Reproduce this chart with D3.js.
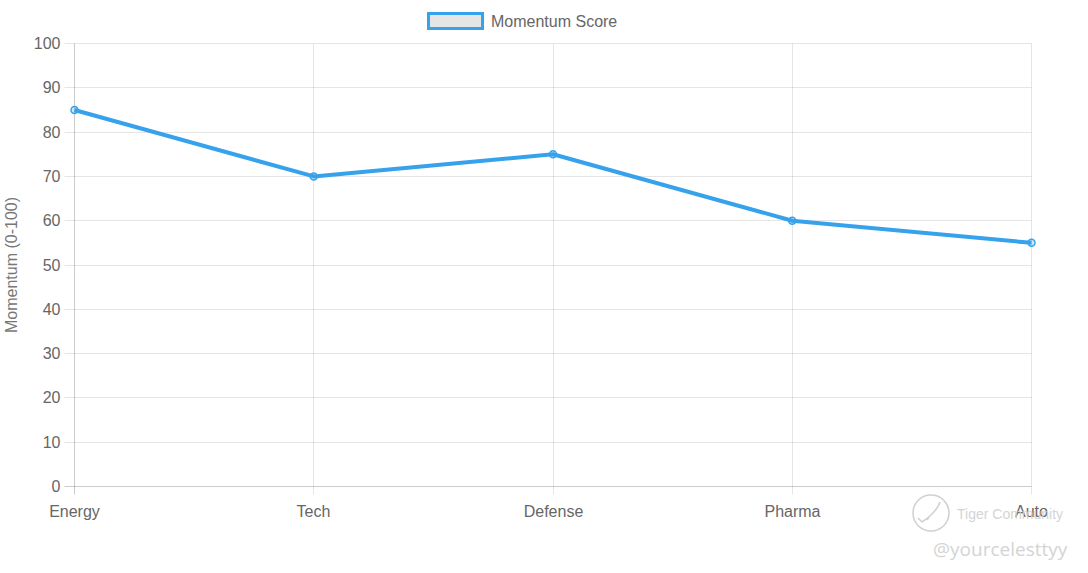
<!DOCTYPE html>
<html><head><meta charset="utf-8">
<script src="https://cdn.jsdelivr.net/npm/d3@7"></script>
<style>body{margin:0;background:#fff;}svg{display:block;font-family:"Liberation Sans",Arial,sans-serif;}</style>
</head><body>
<svg id="chart" width="1088" height="573"></svg>
<script>
const categories = ["Energy", "Tech", "Defense", "Pharma", "Auto"];
const momentumScore = [85, 70, 75, 60, 55];
const yTicks = [0, 10, 20, 30, 40, 50, 60, 70, 80, 90, 100];
const seriesName = "Momentum Score";
const yTitle = "Momentum (0-100)";

(function () {
const svg = d3.select("#chart");
const pL = 74.5, pR = 1031.5, pT = 43.5, pB = 486.5;
const x = d3.scalePoint().domain(categories).range([pL, pR]);
const y = d3.scaleLinear().domain([0, 100]).range([pB, pT]);
const blue = "rgb(54,162,235)";
const grid = "rgba(0,0,0,0.1)";

const gY = svg.append("g");
yTicks.forEach(t => {
  const yy = Math.floor(y(t)) + 0.5;
  gY.append("line").attr("x1", pL - 10).attr("x2", pR)
    .attr("y1", yy).attr("y2", yy)
    .attr("stroke", t === 0 ? "rgba(0,0,0,0.2)" : grid).attr("stroke-width", 1);
  gY.append("text").attr("x", pL - 14).attr("y", yy)
    .attr("dy", "0.35em").attr("text-anchor", "end")
    .attr("font-size", 16).attr("fill", "#666").text(t);
});
categories.forEach((c, i) => {
  const xx = Math.floor(x(c)) + 0.5;
  svg.append("line").attr("x1", xx).attr("x2", xx).attr("y1", pT).attr("y2", pB + 8)
    .attr("stroke", i === 0 ? "rgba(0,0,0,0.2)" : grid).attr("stroke-width", 1);
  svg.append("text").attr("x", xx).attr("y", 517).attr("text-anchor", "middle")
    .attr("font-size", 16).attr("fill", "#666").text(c);
});

svg.append("text").attr("transform", "translate(17," + ((pT + pB) / 2) + ") rotate(-90)")
  .attr("text-anchor", "middle").attr("font-size", 16).attr("fill", "#777").text(yTitle);

const line = d3.line().x((d, i) => x(categories[i])).y(d => y(d));
svg.append("path").datum(momentumScore).attr("d", line)
  .attr("fill", "none").attr("stroke", blue).attr("stroke-width", 4)
  .attr("stroke-linejoin", "round");
svg.selectAll("circle.pt").data(momentumScore).enter().append("circle")
  .attr("class", "pt")
  .attr("cx", (d, i) => x(categories[i])).attr("cy", d => y(d)).attr("r", 3.5)
  .attr("fill", "rgba(54,162,235,0.25)").attr("stroke", blue).attr("stroke-width", 1.5);

svg.append("rect").attr("x", 428.5).attr("y", 13.5).attr("width", 54).attr("height", 15)
  .attr("fill", "#e5e5e5").attr("stroke", blue).attr("stroke-width", 3);
svg.append("text").attr("x", 491).attr("y", 21).attr("dy", "0.35em")
  .attr("font-size", 16).attr("fill", "#666").text(seriesName);

const wm = svg.append("g").attr("opacity", 0.9);
wm.append("circle").attr("cx", 931).attr("cy", 513).attr("r", 18)
  .attr("fill", "none").attr("stroke", "#ccc").attr("stroke-width", 1.5);
wm.append("path").attr("d", "M922,522 q5,-3 10,-8 q6,-6 8,-12 M918,518 l4,4 M927,520 l2,-3")
  .attr("fill", "none").attr("stroke", "#ccc").attr("stroke-width", 1.5);
wm.append("text").attr("x", 957).attr("y", 514).attr("dy", "0.35em")
  .attr("font-size", 14).attr("fill", "#d0d0d0").text("Tiger Community");
wm.append("text").attr("x", 933).attr("y", 549).attr("dy", "0.35em")
  .attr("font-size", 19).attr("fill", "#d0d0d0").attr("font-family", "Open Sans, sans-serif").text("@yourcelesttyy");
})();
</script>
</body></html>
